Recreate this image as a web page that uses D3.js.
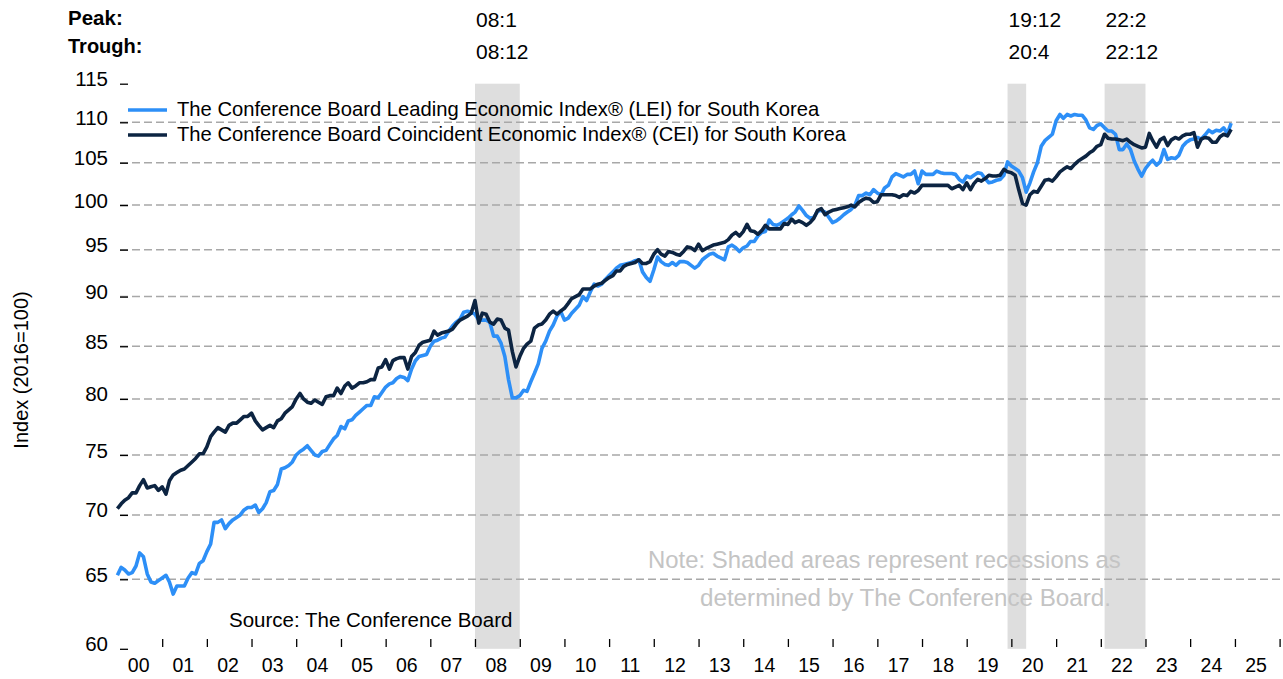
<!DOCTYPE html>
<html>
<head>
<meta charset="utf-8">
<script src="https://cdn.jsdelivr.net/npm/d3@7"></script>
<style>
  html, body { margin: 0; padding: 0; background: #fff; }
  svg { display: block; font-family: "Liberation Sans", Arial, sans-serif; }
</style>
</head>
<body>
<svg id="chart" width="1283" height="679"></svg>
<script>
// monthly index values (2016=100), Jan 2000 .. Dec 2024, one row per year
const firstMonth = '2000-01';

const leiValues = [
  65.3, 65.9, 65.7, 65.4, 65.5, 66.0, 67.0, 66.7, 65.4, 64.8, 64.7, 64.9,
  65.1, 65.3, 64.8, 63.9, 64.5, 64.5, 64.5, 65.1, 65.5, 65.4, 66.2, 66.4,
  67.1, 67.7, 69.4, 69.4, 69.6, 68.9, 69.3, 69.6, 69.8, 70.0, 70.4, 70.6,
  70.6, 70.8, 70.2, 70.5, 71.0, 71.9, 72.0, 72.5, 73.8, 73.9, 74.1, 74.4,
  75.0, 75.3, 75.5, 75.8, 75.4, 75.0, 74.9, 75.3, 75.4, 75.9, 76.4, 76.7,
  77.5, 77.3, 78.0, 78.1, 78.5, 78.8, 79.1, 79.4, 79.4, 80.2, 80.1, 80.6,
  81.1, 81.4, 81.5, 81.9, 82.1, 82.0, 81.7, 82.8, 83.6, 84.0, 84.1, 84.2,
  85.0, 85.5, 85.6, 85.8, 85.9, 86.5, 87.0, 87.4, 87.7, 88.4, 88.5, 88.4,
  88.2, 87.6, 87.6, 87.6, 87.4, 86.0, 86.0, 85.3, 84.0, 81.8, 80.1, 80.1,
  80.3, 80.8, 80.7, 81.6, 82.4, 83.3, 84.8, 85.5, 86.5, 87.1, 88.0, 88.5,
  87.6, 87.8, 88.3, 88.7, 89.1, 90.0, 89.6, 90.5, 91.3, 91.1, 91.3, 91.8,
  92.2, 92.6, 93.0, 93.3, 93.4, 93.5, 93.6, 93.8, 93.9, 92.6, 92.0, 91.6,
  92.8, 94.2, 93.7, 93.4, 93.3, 93.6, 93.3, 93.7, 93.7, 93.6, 93.3, 93.0,
  93.3, 93.9, 94.2, 94.5, 94.6, 94.3, 94.1, 93.9, 95.3, 95.5, 95.2, 94.8,
  95.2, 95.4, 95.9, 95.9, 96.5, 96.9, 97.0, 98.3, 97.8, 97.7, 97.9, 98.2,
  98.5, 98.9, 99.2, 99.9, 99.4, 98.8, 98.5, 98.6, 99.3, 99.4, 99.2, 98.6,
  98.0, 98.2, 98.5, 98.9, 99.2, 99.5, 100.0, 101.1, 101.1, 101.4, 101.2, 101.8,
  101.4, 101.2, 102.0, 102.3, 103.3, 103.7, 103.5, 103.3, 103.6, 103.6, 104.0, 102.5,
  104.0, 103.6, 103.6, 103.6, 104.0, 103.8, 103.7, 103.7, 103.7, 103.6, 103.0, 102.7,
  103.4, 103.2, 103.5, 103.8, 103.7, 103.1, 102.6, 102.7, 102.9, 103.0, 103.5, 105.1,
  104.6, 104.3, 104.0, 103.2, 101.5, 102.6, 103.9, 105.0, 107.0, 107.7, 108.1, 108.5,
  110.2, 111.0, 110.5, 111.0, 110.8, 111.0, 110.9, 110.9, 110.3, 109.3, 109.1, 109.6,
  109.8, 109.3, 108.9, 108.9, 108.5, 106.6, 106.6, 107.3, 106.6, 105.2, 104.2, 103.4,
  104.3, 104.9, 105.3, 104.7, 105.1, 106.6, 105.4, 105.6, 105.5, 105.9, 107.0, 107.5,
  107.8, 107.9, 108.1, 107.9, 108.4, 109.0, 108.7, 109.0, 108.9, 109.3, 108.6, 109.9
];

const ceiValues = [
  70.5, 70.9, 71.2, 71.4, 71.8, 71.8, 72.4, 72.9, 72.2, 72.3, 72.4, 72.0,
  72.3, 71.7, 72.8, 73.3, 73.5, 73.7, 73.8, 74.1, 74.4, 74.7, 75.1, 75.1,
  75.7, 76.6, 77.0, 77.4, 77.2, 77.0, 77.6, 77.8, 77.8, 78.1, 78.4, 78.4,
  78.7, 78.0, 77.6, 77.2, 77.4, 77.6, 77.4, 78.0, 78.2, 78.7, 79.0, 79.3,
  80.0, 80.5, 80.0, 79.7, 79.6, 79.9, 79.7, 79.5, 80.2, 80.3, 80.3, 81.0,
  80.5, 81.2, 81.5, 81.0, 81.2, 81.5, 81.5, 81.6, 81.8, 81.8, 82.9, 83.0,
  83.7, 82.8, 83.6, 83.8, 83.9, 83.9, 82.8, 84.0, 84.4, 85.1, 85.4, 85.5,
  85.6, 86.5, 86.1, 86.3, 86.4, 86.5, 86.7, 87.2, 87.6, 87.8, 88.0, 88.3,
  89.6, 87.3, 88.3, 88.2, 87.4, 87.2, 87.7, 87.6, 86.8, 86.6, 84.5, 83.0,
  84.0, 84.8, 85.2, 85.5, 86.8, 87.1, 87.2, 87.6, 88.2, 88.5, 88.2, 88.5,
  88.8, 89.3, 89.8, 90.0, 90.2, 90.8, 90.8, 90.8, 91.1, 91.3, 91.4, 91.7,
  92.0, 92.2, 92.7, 92.7, 93.2, 93.4, 93.5, 93.6, 93.9, 93.5, 93.5, 93.7,
  94.5, 95.0, 94.5, 94.3, 94.8, 94.7, 94.5, 94.4, 94.8, 95.3, 95.2, 94.9,
  95.6, 94.9, 95.1, 95.3, 95.5, 95.6, 95.7, 95.8, 96.1, 96.6, 96.9, 96.5,
  97.0, 97.8, 97.1, 97.0, 96.7, 97.1, 97.7, 97.3, 97.3, 97.3, 97.3, 97.9,
  97.8, 98.4, 98.0, 98.2, 98.0, 97.7, 98.0, 98.5, 99.4, 99.6, 98.9, 99.2,
  99.4, 99.5, 99.6, 99.7, 99.8, 100.0, 99.8, 100.3, 100.6, 100.8, 100.7, 100.3,
  100.4, 101.2, 101.2, 101.2, 101.2, 101.1, 100.9, 101.2, 101.1, 101.6, 101.4, 101.7,
  102.3, 102.3, 102.3, 102.3, 102.3, 102.3, 102.3, 102.3, 101.9, 102.1, 102.3, 101.8,
  102.6, 101.8, 102.5, 103.0, 102.8, 103.1, 103.5, 103.4, 103.4, 103.5, 104.2, 103.9,
  103.8, 103.5, 101.8, 100.2, 100.0, 101.2, 101.6, 101.5, 102.2, 102.9, 103.0, 102.8,
  103.3, 103.9, 104.2, 104.5, 104.3, 104.8, 105.2, 105.5, 105.8, 106.2, 106.5, 107.0,
  107.2, 108.5, 108.0, 107.9, 107.9, 107.8, 107.7, 107.9, 107.5, 107.2, 107.0, 106.8,
  106.9, 108.6, 107.7, 106.9, 107.8, 108.1, 107.1, 107.8, 108.1, 107.9, 108.3, 108.5,
  108.5, 108.7, 106.9, 107.9, 108.1, 108.0, 107.5, 107.5, 108.2, 108.5, 108.3, 109.1
];

// recessions (yy:m)
const peaks = ['08:1', '19:12', '22:2'];
const troughs = ['08:12', '20:4', '22:12'];

const yTickValues = [60, 65, 70, 75, 80, 85, 90, 95, 100, 105, 110, 115];
const gridValues = [65, 70, 75, 80, 85, 90, 95, 100, 105, 110];
const yearLabels = ['00', '01', '02', '03', '04', '05', '06', '07', '08', '09', '10', '11', '12',
  '13', '14', '15', '16', '17', '18', '19', '20', '21', '22', '23', '24', '25'];

const seriesNames = [
  'The Conference Board Leading Economic Index\u00ae (LEI) for South Korea',
  'The Conference Board Coincident Economic Index\u00ae (CEI) for South Korea'
];
const seriesColors = ['#2d8ff7', '#0c2442'];

const svg = d3.select('#chart');

const t0 = d3.timeParse('%Y-%m')(firstMonth);
const monthDate = i => d3.timeMonth.offset(t0, i);
const ymDate = (s, endOfMonth) => {
  const [yy, mm] = s.split(':').map(Number);
  return new Date(2000 + yy, mm - 1 + (endOfMonth ? 1 : 0), 1);
};

const x = d3.scaleTime()
  .domain([new Date(2000, 0, 1), new Date(2026, 0, 1)])
  .range([117.4, 1279.6]);

const y = d3.scaleLog()
  .domain([60, 115])
  .range([648.8, 83.7]);

// recession shading
svg.append('g')
  .selectAll('rect')
  .data(peaks.map((p, i) => ({ from: ymDate(p, false), to: ymDate(troughs[i], true) })))
  .enter()
  .append('rect')
  .attr('x', d => x(d.from))
  .attr('width', d => x(d.to) - x(d.from))
  .attr('y', y(115))
  .attr('height', y(60) - y(115))
  .attr('fill', '#dedede');

// dashed gridlines
svg.append('g')
  .selectAll('line')
  .data(gridValues)
  .enter()
  .append('line')
  .attr('x1', 120)
  .attr('x2', 1283)
  .attr('y1', d => y(d))
  .attr('y2', d => y(d))
  .attr('stroke', '#a8a8a8')
  .attr('stroke-width', 1.5)
  .attr('stroke-dasharray', '8,4');

// y axis
const yAxis = svg.append('g')
  .attr('transform', 'translate(128,0)')
  .call(d3.axisLeft(y).tickValues(yTickValues).tickFormat(d3.format('d')).tickSize(8).tickPadding(12));
yAxis.select('.domain').remove();
yAxis.selectAll('line').attr('stroke', '#000').attr('stroke-width', 1.3);
yAxis.selectAll('text')
  .attr('dy', '0.1em')
  .style('font-size', '20.5px')
  .style('font-family', '"Liberation Sans", Arial, sans-serif')
  .attr('fill', '#000');

// x axis: year boundary ticks pointing up
const xTicks = svg.append('g')
  .attr('transform', 'translate(0,647)')
  .call(d3.axisBottom(x)
    .tickValues(d3.range(2001, 2027).map(yr => new Date(yr, 0, 1)))
    .tickSize(-8)
    .tickFormat(''));
xTicks.select('.domain').remove();
xTicks.selectAll('line').attr('stroke', '#000').attr('stroke-width', 1.3);

// x axis: year labels centred in each year
const xLabels = svg.append('g')
  .attr('transform', 'translate(-1.5,647)')
  .call(d3.axisBottom(x)
    .tickValues(yearLabels.map(l => new Date(2000 + (+l), 6, 1)))
    .tickSize(0)
    .tickPadding(11)
    .tickFormat(d => yearLabels[d.getFullYear() - 2000]));
xLabels.select('.domain').remove();
xLabels.selectAll('text')
  .style('font-size', '19.5px')
  .style('font-family', '"Liberation Sans", Arial, sans-serif')
  .attr('fill', '#000');

// lines
const line = d3.line()
  .x(d => x(d.date))
  .y(d => y(d.value));

[leiValues, ceiValues].forEach((vals, i) => {
  svg.append('path')
    .datum(vals.map((v, j) => ({ date: monthDate(j), value: v })))
    .attr('fill', 'none')
    .attr('stroke', seriesColors[i])
    .attr('stroke-width', 3.6)
    .attr('stroke-linejoin', 'round')
    .attr('d', line);
});

// legend
const legend = svg.append('g');
const legendItems = legend.selectAll('g')
  .data(seriesNames)
  .enter()
  .append('g')
  .attr('transform', (d, i) => `translate(0, ${i * 25})`);
legendItems.append('line')
  .attr('x1', 128)
  .attr('x2', 167)
  .attr('y1', 110)
  .attr('y2', 110)
  .attr('stroke', (d, i) => seriesColors[i])
  .attr('stroke-width', 3.6);
legendItems.append('text')
  .attr('x', 177)
  .attr('y', 116)
  .text(d => d)
  .style('font-size', '20.2px')
  .attr('fill', '#000');

// peak / trough header
svg.append('text').attr('x', 68).attr('y', 25).text('Peak:')
  .style('font-size', '20.5px').style('font-weight', 'bold');
svg.append('text').attr('x', 68).attr('y', 53).text('Trough:')
  .style('font-size', '20px').style('font-weight', 'bold');

svg.append('g')
  .selectAll('text')
  .data(peaks)
  .enter()
  .append('text')
  .attr('x', d => x(ymDate(d, false)) + 1)
  .attr('y', 27)
  .text(d => d)
  .style('font-size', '21px');

svg.append('g')
  .selectAll('text')
  .data(troughs)
  .enter()
  .append('text')
  .attr('x', (d, i) => x(ymDate(peaks[i], false)) + 1)
  .attr('y', 59)
  .text(d => d)
  .style('font-size', '21px');

// y axis title
svg.append('text')
  .attr('transform', 'translate(28,370) rotate(-90)')
  .attr('text-anchor', 'middle')
  .text('Index (2016=100)')
  .style('font-size', '20px');

// source and note
svg.append('text')
  .attr('x', 229)
  .attr('y', 627)
  .text('Source: The Conference Board')
  .style('font-size', '20.5px');

svg.append('text')
  .attr('x', 648)
  .attr('y', 568)
  .text('Note: Shaded areas represent recessions as')
  .style('font-size', '23.9px')
  .attr('fill', '#c4c4c4');
svg.append('text')
  .attr('x', 700)
  .attr('y', 606)
  .text('determined by The Conference Board.')
  .style('font-size', '24.2px')
  .attr('fill', '#c4c4c4');
</script>
</body>
</html>
